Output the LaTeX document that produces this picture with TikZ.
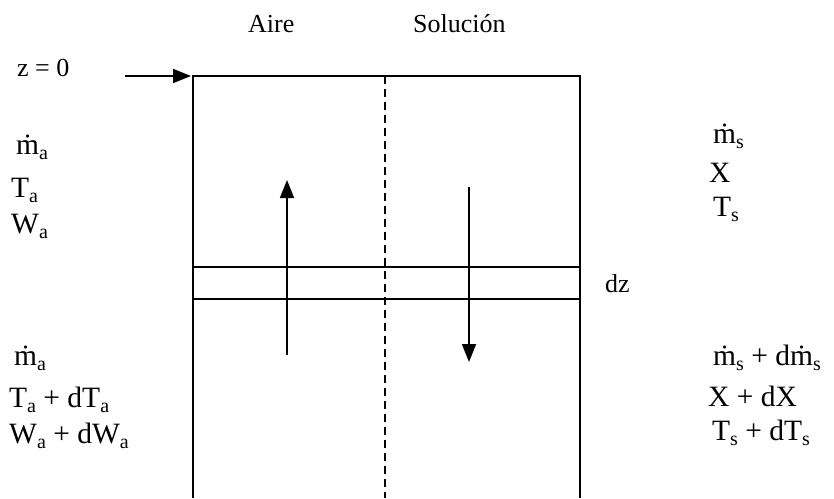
\documentclass[tikz,border=0pt]{standalone}
\usepackage{fontspec}
\setmainfont{Liberation Serif}
\usetikzlibrary{arrows.meta}
\newcommand{\sbs}[1]{\raisebox{-5pt}{\fontsize{20}{20}\selectfont #1}}
\begin{document}
\begin{tikzpicture}[x=1pt,y=-1pt,
  lbl/.style={anchor=base west,inner sep=0pt,font=\fontsize{26}{30}\selectfont},
  var/.style={anchor=base west,inner sep=0pt,font=\fontsize{29.5}{32}\selectfont},
  wall/.style={line width=2pt},
  sep/.style={line width=2pt,dash pattern=on 8pt off 5pt},
  flow/.style={line width=1.8pt,-{Triangle[length=18pt,width=14pt]}}]
\useasboundingbox (0,0) rectangle (834,498);
% box
\coordinate (TL) at (193,76);
\coordinate (TR) at (580,76);
\coordinate (BL) at (193,498);
\coordinate (BR) at (580,498);
\coordinate (S1L) at (193,267);
\coordinate (S1R) at (580,267);
\coordinate (S2L) at (193,299);
\coordinate (S2R) at (580,299);
\coordinate (DT) at (385,76);
\coordinate (DB) at (385,498);
\draw[wall] (BL) -- (TL) -- (TR) -- (BR);
\draw[wall] (S1L) -- (S1R);
\draw[wall] (S2L) -- (S2R);
\draw[sep] (DT) -- (DB);
% arrows
\coordinate (UA0) at (287,355);
\coordinate (UA1) at (287,180);
\coordinate (DA0) at (469,187);
\coordinate (DA1) at (469,362);
\coordinate (ZA0) at (125,76);
\coordinate (ZA1) at (191,76);
\draw[flow] (UA0) -- (UA1);
\draw[flow] (DA0) -- (DA1);
\draw[flow] (ZA0) -- (ZA1);
% labels
\node[lbl] (aire) at (248,32) {Aire};
\node[lbl] (sol) at (413,32) {Solución};
\node[lbl] (z0) at (17,76) {z = 0};
\node[lbl] (dz) at (605,292) {dz};
\node[var] (ma) at (16,154) {ṁ\sbs{a}};
\node[var] (ta) at (11,197) {T\sbs{a}};
\node[var] (wa) at (11,233) {W\sbs{a}};
\node[var] (ma2) at (14,365) {ṁ\sbs{a}};
\node[var] (ta2) at (9,407) {T\sbs{a} + dT\sbs{a}};
\node[var] (wa2) at (9,443) {W\sbs{a} + dW\sbs{a}};
\node[var] (ms) at (713,143) {ṁ\sbs{s}};
\node[var] (x) at (709,182) {X};
\node[var] (ts) at (713,216) {T\sbs{s}};
\node[var] (ms2) at (713,365) {ṁ\sbs{s} + dṁ\sbs{s}};
\node[var] (x2) at (708,406) {X + dX};
\node[var] (ts2) at (712,440) {T\sbs{s} + dT\sbs{s}};
\end{tikzpicture}
\end{document}
